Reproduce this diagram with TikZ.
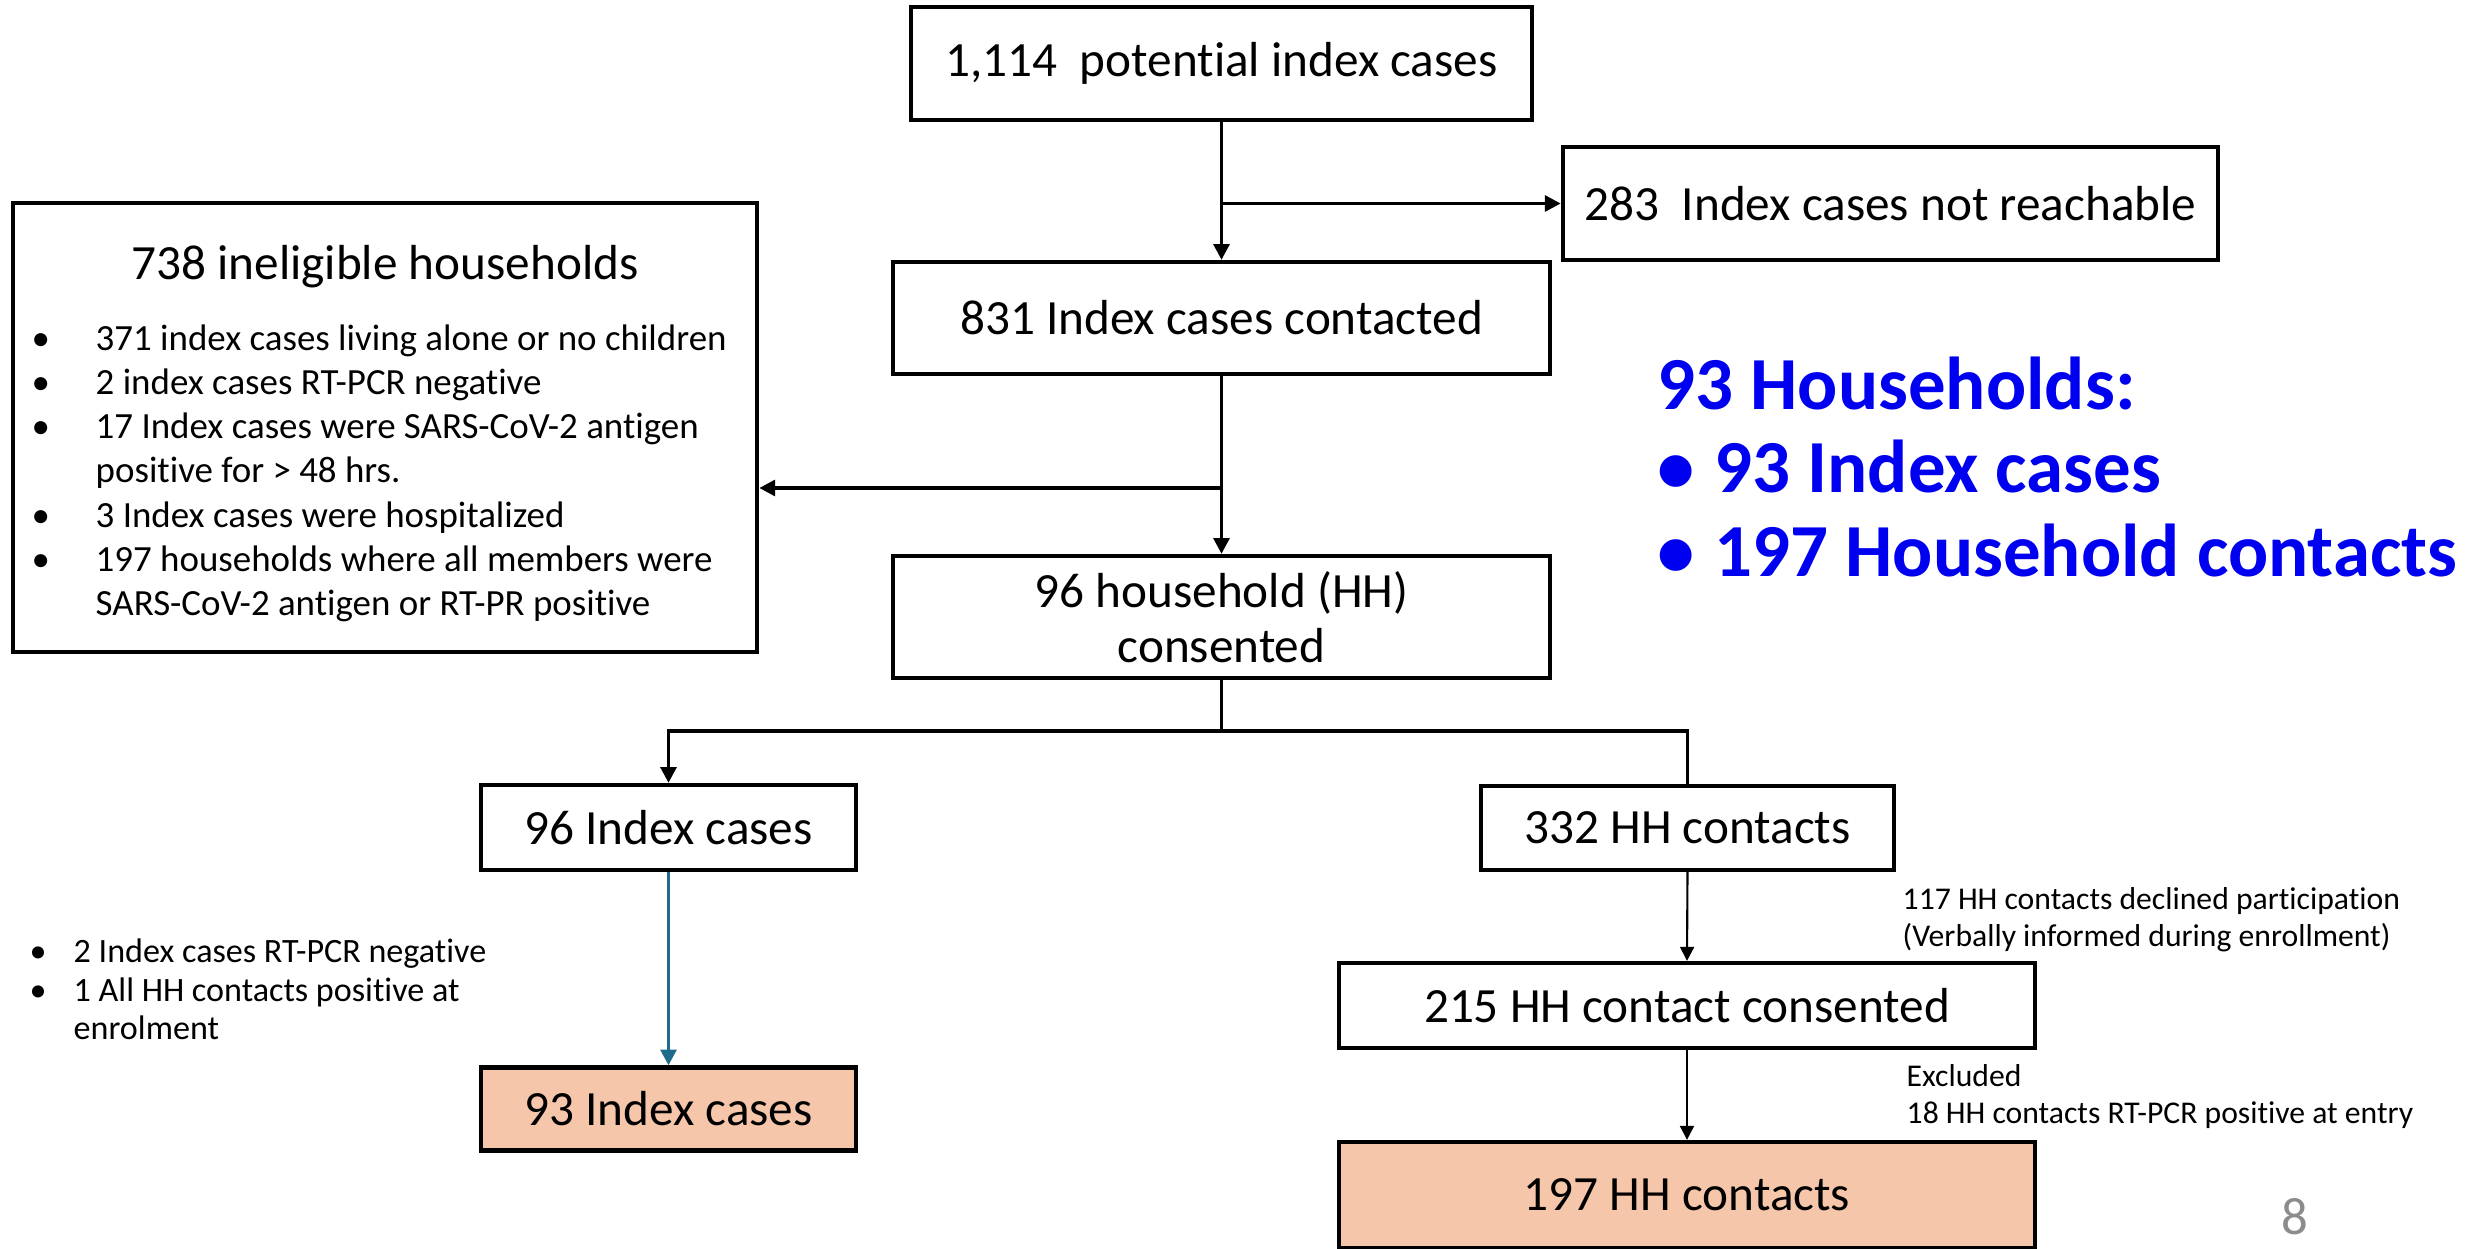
\documentclass[tikz,border=0pt]{standalone}
\usepackage{fontspec}
\setmainfont{Carlito}[Ligatures=NoCommon]
\usetikzlibrary{arrows.meta,positioning}

\definecolor{peach}{HTML}{F6C6AA}
\definecolor{tealline}{HTML}{1F6B8C}
\definecolor{hhblue}{HTML}{0000F0}
\definecolor{pagegray}{HTML}{8C8C8C}

\tikzset{
  box/.style={draw, line width=1.2pt, align=center, inner sep=0pt,
    font=\fontsize{14}{15.7}\selectfont},
  final/.style={box, fill=peach},
  arr/.style={line width=1pt, -{Triangle[length=4.5pt,width=4.5pt]}},
  thinarr/.style={line width=0.6pt, -{Triangle[length=4pt,width=4pt]}},
  note/.style={align=left, inner sep=0pt, font=\fontsize{9}{10.4}\selectfont},
}
\newcommand{\blt}{\hspace*{-0.1cm}\textbullet}

\begin{document}
\begin{tikzpicture}[x=0.01cm, y=-0.01cm]
\useasboundingbox (0,0) rectangle (2484,1249);

% main column
\node [box, minimum width=6.2cm, minimum height=1.13cm] (potential) at (1221.5,63.5) {1,114\ \ potential index cases};
\node [box, minimum width=6.55cm, minimum height=1.13cm] (notreach) at (1890.5,203.5) {283\ \ Index cases not reachable};
\node [box, minimum width=6.57cm, minimum height=1.12cm] (contacted) at (1221.5,318) {831 Index cases contacted};
\node [box, minimum width=6.57cm, minimum height=1.22cm] (consented) at (1221.5,617) {96 household (HH)\\consented};

% ineligible households
\node [box, minimum width=7.44cm, minimum height=4.49cm] (inelig) at (385,427.5) {};
\node [font=\fontsize{14}{16}\selectfont, inner sep=0pt] (ineligtitle) at (385,267) {738 ineligible households};
\node [anchor=west, inner sep=0pt, font=\fontsize{10.5}{12.57}\selectfont] (ineliglist) at (41,474) {%
  \begin{tabular}{@{}p{0.54cm}@{}l@{}}
  \blt & 371 index cases living alone or no children\\
  \blt & 2 index cases RT-PCR negative\\
  \blt & 17 Index cases were SARS-CoV-2 antigen\\
       & positive for > 48 hrs.\\
  \blt & 3 Index cases were hospitalized\\
  \blt & 197 households where all members were\\
       & SARS-CoV-2 antigen or RT-PR positive
  \end{tabular}};

% two branches
\node [box, minimum width=3.75cm, minimum height=0.85cm] (idx96) at (668.5,827.5) {96 Index cases};
\node [box, minimum width=4.13cm, minimum height=0.84cm] (hh332) at (1687.5,828) {332 HH contacts};
\node [final, minimum width=3.75cm, minimum height=0.83cm] (idx93) at (668.5,1109) {93 Index cases};
\node [box, minimum width=6.96cm, minimum height=0.85cm] (hh215) at (1687,1005.5) {215 HH contact consented};
\node [final, minimum width=6.96cm, minimum height=1.06cm] (hh197) at (1687,1195) {197 HH contacts};

% side notes
\node [anchor=west, inner sep=0pt, font=\fontsize{9.7}{10.9}\selectfont] (idxnote) at (39,993.5) {%
  \begin{tabular}{@{}p{0.34cm}@{}l@{}}
  \blt & 2 Index cases RT-PCR negative\\
  \blt & 1 All HH contacts positive at\\
       & enrolment
  \end{tabular}};
\node [note, anchor=west] (declined) at (1902,920) {117 HH contacts declined participation\\(Verbally informed during enrollment)};
\node [note, anchor=west] (excluded) at (1906,1096.5) {Excluded\\18 HH contacts RT-PCR positive at entry};

% summary
\node [anchor=west, inner sep=0pt, text=hhblue, font=\fontsize{21.3}{23.8}\selectfont\bfseries] (summary) at (1657,476) {%
  \begin{tabular}{@{}p{0.57cm}@{}l@{}}
  \multicolumn{2}{@{}l@{}}{93 Households:}\\
  \textbullet & 93 Index cases\\
  \textbullet & 197 Household contacts
  \end{tabular}};
\node [text=pagegray, font=\fontsize{15}{18}\selectfont, inner sep=0pt] (pagenum) at (2295,1217) {8};

% connectors
\coordinate (toinelig) at (1221.5,488);
\coordinate (fork) at (1221.5,731);
\draw [arr] (potential.south) -- (contacted.north);
\draw [arr] (potential.south |- notreach.west) -- (notreach.west);
\draw [arr] (contacted.south) -- (consented.north);
\draw [arr] (toinelig) -- (toinelig -| inelig.east);
\draw [line width=1pt] (consented.south) -- (fork);
\draw [arr] (fork) -| (idx96.north);
\draw [line width=1pt] (fork) -| (hh332.north);
\draw [arr, tealline] (idx96.south) -- (idx93.north);
\draw [thinarr] (hh332.south) -- (hh215.north);
\draw [thinarr] (hh215.south) -- (hh197.north);
\end{tikzpicture}
\end{document}
